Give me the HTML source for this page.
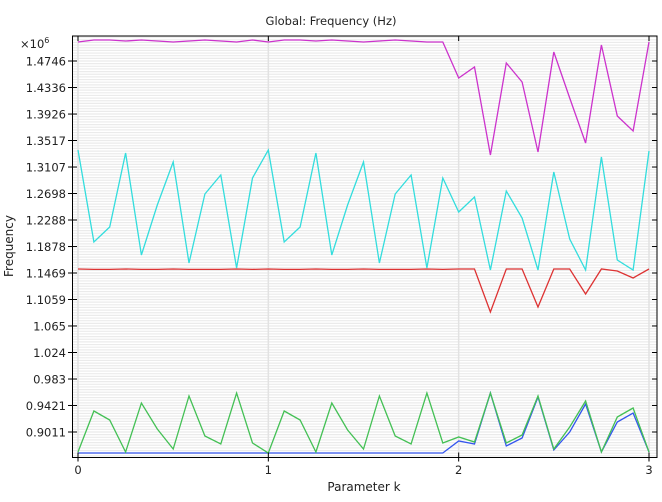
<!DOCTYPE html>
<html><head><meta charset="utf-8"><style>
html,body{margin:0;padding:0;background:#fff;}
svg text{font-family:"DejaVu Sans","Liberation Sans",sans-serif;fill:#222;}
</style></head><body>
<svg id="chart" width="662" height="497" viewBox="0 0 662 497" xmlns="http://www.w3.org/2000/svg">
<rect width="662" height="497" fill="#fff"/>
<text x="331" y="25" text-anchor="middle" font-size="11.5">Global: Frequency (Hz)</text>
<g id="grid"></g>
<g id="series"></g>
<g id="axes"></g>
<text x="364" y="491" text-anchor="middle" font-size="12">Parameter k</text>
<text transform="translate(13,246) rotate(-90)" text-anchor="middle" font-size="12">Frequency</text>
<text x="20" y="48" font-size="11.5">×10<tspan font-size="8" dy="-5">6</tspan></text>
</svg>
<script>
const kValues = [0,1/12,2/12,3/12,4/12,5/12,6/12,7/12,8/12,9/12,10/12,11/12,1,13/12,14/12,15/12,16/12,17/12,18/12,19/12,20/12,21/12,22/12,23/12,2,25/12,26/12,27/12,28/12,29/12,30/12,31/12,32/12,33/12,34/12,35/12,3];
const magentaVals = [1.5040,1.5071,1.5071,1.5055,1.5071,1.5055,1.5040,1.5055,1.5071,1.5055,1.5040,1.5071,1.5040,1.5071,1.5071,1.5055,1.5071,1.5055,1.5040,1.5055,1.5071,1.5055,1.5040,1.5040,1.4483,1.4653,1.3293,1.4715,1.4421,1.3339,1.4885,1.4174,1.3478,1.4993,1.3896,1.3664,1.5040];
const cyanVals = [1.3370,1.1948,1.2180,1.3324,1.1747,1.2520,1.3185,1.1623,1.2690,1.2984,1.1546,1.2937,1.3370,1.1948,1.2180,1.3324,1.1747,1.2520,1.3185,1.1623,1.2690,1.2984,1.1546,1.2937,1.2412,1.2644,1.1515,1.2736,1.2319,1.1515,1.3030,1.1994,1.1515,1.3262,1.1670,1.1515,1.3355];
const redVals = [1.1531,1.1525,1.1525,1.1531,1.1525,1.1525,1.1531,1.1525,1.1525,1.1525,1.1531,1.1525,1.1531,1.1525,1.1525,1.1531,1.1525,1.1525,1.1531,1.1525,1.1525,1.1525,1.1531,1.1525,1.1531,1.1531,1.0866,1.1531,1.1531,1.0943,1.1531,1.1531,1.1144,1.1531,1.1500,1.1392,1.1531];
const greenVals = [0.8702,0.9336,0.9196,0.8702,0.9459,0.9057,0.8748,0.9567,0.8949,0.8826,0.9614,0.8841,0.8686,0.9336,0.9196,0.8702,0.9459,0.9042,0.8748,0.9567,0.8949,0.8826,0.9614,0.8841,0.8934,0.8856,0.9614,0.8841,0.8965,0.9567,0.8748,0.9088,0.9490,0.8702,0.9243,0.9382,0.8702];
const blueVals = [0.8686,0.8686,0.8686,0.8686,0.8686,0.8686,0.8686,0.8686,0.8686,0.8686,0.8686,0.8686,0.8686,0.8686,0.8686,0.8686,0.8686,0.8686,0.8686,0.8686,0.8686,0.8686,0.8686,0.8686,0.8872,0.8826,0.9614,0.8795,0.8918,0.9552,0.8733,0.9011,0.9444,0.8702,0.9166,0.9305,0.8702];
const yTicks = [0.9011,0.9421,0.983,1.024,1.065,1.1059,1.1469,1.1878,1.2288,1.2698,1.3107,1.3517,1.3926,1.4336,1.4746];
const yTickLabels = ["0.9011","0.9421","0.983","1.024","1.065","1.1059","1.1469","1.1878","1.2288","1.2698","1.3107","1.3517","1.3926","1.4336","1.4746"];
const xTicks = [0,1,2,3];

const NS="http://www.w3.org/2000/svg";
const L=72.5,R=657,T=36,B=457.5;
const x0=78,x1=649,xMin=0,xMax=3;
const yRef0=0.9011,yRefPx0=432,yRef1=1.4746,yRefPx1=61;
function xs(v){return x0+(v-xMin)/(xMax-xMin)*(x1-x0);}
function ys(v){return yRefPx0+(v-yRef0)/(yRef1-yRef0)*(yRefPx1-yRefPx0);}
function mk(tag,attrs,parent){const e=document.createElementNS(NS,tag);for(const k in attrs)e.setAttribute(k,attrs[k]);parent.appendChild(e);return e;}
const grid=document.getElementById('grid'),series=document.getElementById('series'),axes=document.getElementById('axes');
// minor grid
const step=(yRef1-yRef0)/14/10;
for(let v=yRef0-step*20;v<yRef1+step*30;v+=step){const y=ys(v);if(y<T+1||y>B-1)continue;
 const ln=mk('line',{x1:L,x2:R,y1:y,y2:y,stroke:'#ebebeb','stroke-width':1.2},grid);
 
 }
xTicks.forEach(t=>{const ln=mk('line',{x1:xs(t),x2:xs(t),y1:T,y2:B,stroke:'#e2e2e2','stroke-width':1.5},grid);
 
 });
const defs=[[magentaVals,'#cc33cc','magenta-series'],[cyanVals,'#33dddd','cyan-series'],[redVals,'#dd3333','red-series'],[blueVals,'#3355ee','blue-series'],[greenVals,'#44c055','green-series']];
defs.forEach(([vals,col,name])=>{const pts=vals.map((v,i)=>xs(kValues[i]).toFixed(1)+','+ys(v).toFixed(1)).join(' ');
 const pl=mk('polyline',{points:pts,fill:'none',stroke:col,'stroke-width':1.3},series);
 
 });
const box=mk('rect',{x:L,y:T,width:R-L,height:B-T,fill:'none',stroke:'#000','stroke-width':1},axes);


yTicks.forEach((t,i)=>{const y=ys(t);
 const a=mk('line',{x1:68,x2:77,y1:y,y2:y,stroke:'#000'},axes);
 
 
 const b=mk('line',{x1:R-5,x2:R,y1:y,y2:y,stroke:'#000'},axes);
 
 
 const tx=mk('text',{x:66,y:y+4.5,'text-anchor':'end','font-size':'11.5'},axes);tx.textContent=yTickLabels[i];
 
 });
xTicks.forEach(t=>{const x=xs(t);
 const a=mk('line',{x1:x,x2:x,y1:B-5,y2:B+4,stroke:'#000'},axes);
 
 
 const b=mk('line',{x1:x,x2:x,y1:T,y2:T+5,stroke:'#000'},axes);
 
 
 const tx=mk('text',{x:x,y:474,'text-anchor':'middle','font-size':'11.5'},axes);tx.textContent=String(t);
 
 });
</script>
</body></html>
